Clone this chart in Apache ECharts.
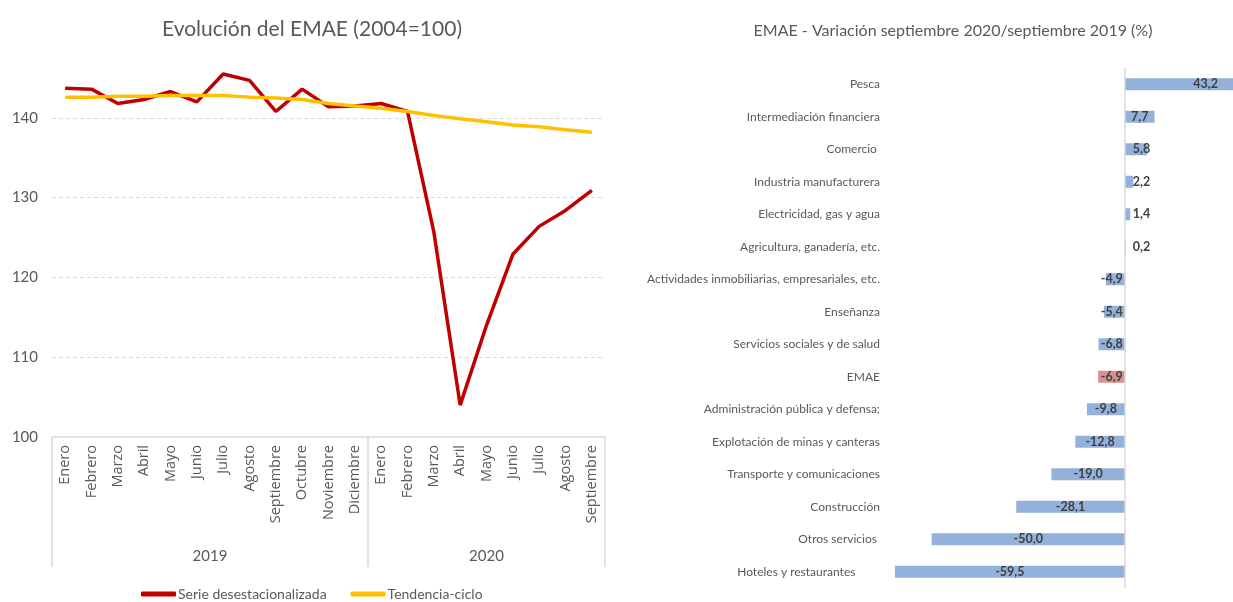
<!DOCTYPE html>
<html>
<head>
<meta charset="utf-8">
<script src="https://cdn.jsdelivr.net/npm/echarts@6/dist/echarts.min.js"></script>
<style>
html,body{margin:0;padding:0;background:#fff;}
#c{width:1233px;height:602px;}
</style>
</head>
<body>
<div id="c"></div>
<script>
// ---- Data: left chart ----
const months = ['Enero','Febrero','Marzo','Abril','Mayo','Junio','Julio','Agosto','Septiembre','Octubre','Noviembre','Diciembre','Enero','Febrero','Marzo','Abril','Mayo','Junio','Julio','Agosto','Septiembre'];
const years = ['2019','2020'];
const yearSpans = [12, 9];
const serieDesest = [143.7,143.6,141.8,142.3,143.3,142.0,145.5,144.7,140.8,143.6,141.4,141.5,141.8,140.8,125.7,104.0,114.0,122.9,126.4,128.4,130.9];
const tendencia = [142.6,142.6,142.7,142.7,142.8,142.8,142.8,142.6,142.5,142.3,141.8,141.5,141.2,140.8,140.3,139.9,139.5,139.1,138.9,138.5,138.2];
const yTicks = [100,110,120,130,140];

// ---- Data: right chart ----
const sectors = ['Pesca','Intermediación financiera','Comercio ','Industria manufacturera','Electricidad, gas y agua','Agricultura, ganadería, etc.','Actividades inmobiliarias, empresariales, etc.','Enseñanza','Servicios sociales y de salud','EMAE','Administración pública y defensa;','Explotación de minas y canteras','Transporte y comunicaciones','Construcción','Otros servicios ','Hoteles y restaurantes        '];
const variations = [43.2,7.7,5.8,2.2,1.4,0.2,-4.9,-5.4,-6.8,-6.9,-9.8,-12.8,-19.0,-28.1,-50.0,-59.5];

const GRAY = '#595959';
const xMaxRight = 28;

// year boundaries and centers (in month units)
const yearBounds = [0];
yearSpans.forEach(s => yearBounds.push(yearBounds[yearBounds.length-1] + s));
const yearCenters = yearSpans.map((s,i) => yearBounds[i] + s/2);

const barData = variations.map((v,i) => {
  let label;
  if (v > xMaxRight) label = {position:'insideRight', distance:15};
  else if (v >= 0 && v < 6) label = {position:'insideLeft', distance:8};
  else if (v < 0 && v > -7) label = {position:'insideRight', distance:2};
  else label = {position:'inside'};
  return {
    value: v,
    itemStyle: {color: sectors[i].trim() === 'EMAE' ? '#D9908F' : '#93B1DA'},
    label: label
  };
});

const chart = echarts.init(document.getElementById('c'), null, {renderer:'canvas'});
chart.setOption({
  animation: false,
  backgroundColor: '#fff',
  title: [
    {text:'Evolución del EMAE (2004=100)', left:307, top:14, textAlign:'center',
     textStyle:{fontFamily:'Lato', fontSize:21, fontWeight:'normal', color:GRAY}},
    {text:'EMAE - Variación septiembre 2020/septiembre 2019 (%)', left:948, top:18, textAlign:'center',
     textStyle:{fontFamily:'Lato', fontSize:16, fontWeight:'normal', color:GRAY}}
  ],
  legend: {
    left: 136, top: 582, itemWidth: 35, itemHeight: 5, itemGap: 24,
    icon: 'roundRect',
    textStyle: {fontFamily:'Lato', fontSize:14, color:GRAY, padding:[0,0,0,-3]},
    data: ['Serie desestacionalizada','Tendencia-ciclo']
  },
  grid: [
    {left:52, right:628, top:70, bottom:165},
    {left:52, right:628, top:70, bottom:165},
    {left:893, right:0, top:68, bottom:14}
  ],
  xAxis: [
    {type:'category', gridIndex:0, data:months, boundaryGap:true,
     axisLine:{lineStyle:{color:'#D9D9D9', width:1.5}},
     axisTick:{show:false},
     axisLabel:{rotate:90, interval:0, margin:8, color:GRAY, fontFamily:'Open Sans', fontSize:14.5}},
    {type:'value', gridIndex:1, min:0, max:yearBounds[yearBounds.length-1], position:'bottom',
     axisLine:{show:false},
     splitLine:{show:false},
     axisTick:{show:true, customValues:yearBounds, length:130, lineStyle:{color:'#D9D9D9', width:1.5}},
     axisLabel:{customValues:yearCenters, margin:112, color:GRAY, fontFamily:'Lato', fontSize:15,
       formatter: v => { const i = yearCenters.indexOf(v); return i >= 0 ? years[i] : ''; }}},
    {type:'value', gridIndex:2, min:-60, max:xMaxRight, show:false}
  ],
  yAxis: [
    {type:'value', gridIndex:0, min:100, max:146, interval:10,
     axisLine:{show:false}, axisTick:{show:false},
     axisLabel:{showMaxLabel:false, margin:14, color:GRAY, fontFamily:'Lato', fontSize:15,
       formatter: v => yTicks.indexOf(v) >= 0 ? String(v) : ''},
     splitLine:{show:true, showMinLine:false, showMaxLine:false, lineStyle:{color:'#D9D9D9', type:[4,3], width:1.2}}},
    {type:'value', gridIndex:1, min:0, max:1, show:false},
    {type:'category', gridIndex:2, data:sectors, inverse:true,
     axisLine:{show:false}, axisTick:{show:false},
     axisLabel:{margin:13, color:GRAY, fontFamily:'Lato', fontSize:12}}
  ],
  series: [
    {name:'Serie desestacionalizada', type:'line', xAxisIndex:0, yAxisIndex:0, data:serieDesest,
     symbol:'none', lineStyle:{color:'#C00000', width:3.5}, itemStyle:{color:'#C00000'}, z:2},
    {name:'Tendencia-ciclo', type:'line', xAxisIndex:0, yAxisIndex:0, data:tendencia,
     symbol:'none', lineStyle:{color:'#FFC000', width:3.5}, itemStyle:{color:'#FFC000'}, z:3},
    {name:'Variación', type:'bar', xAxisIndex:2, yAxisIndex:2, data:barData, barWidth:12,
     label:{show:true, fontFamily:'Lato', fontWeight:'bold', fontSize:12.5, color:'#404040',
       formatter: p => p.value.toFixed(1).replace('.', ',')},
     markLine:{silent:true, symbol:['none','none'], label:{show:false},
       lineStyle:{color:'#D9D9D9', type:'solid', width:1.5},
       data:[{xAxis:0}]}}
  ]
});
</script>
</body>
</html>
